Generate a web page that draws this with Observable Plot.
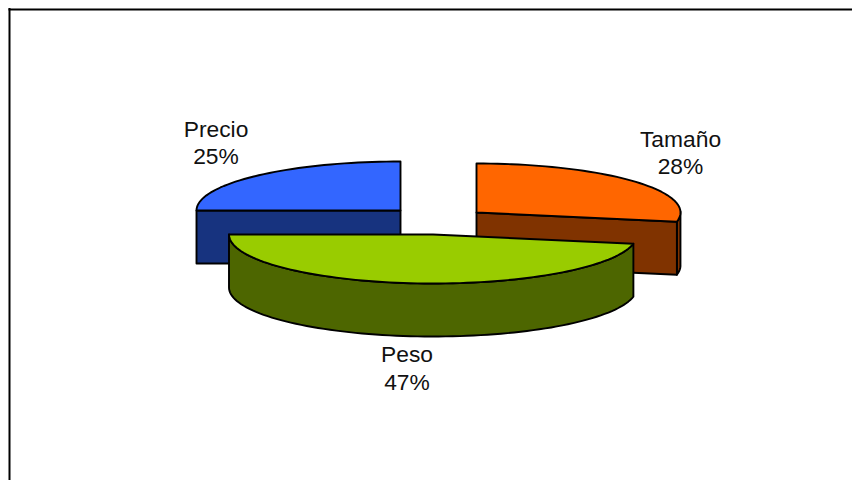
<!DOCTYPE html>
<html lang="es">
<head>
<meta charset="utf-8">
<title>Precio, Tamaño, Peso</title>
<script src="https://cdn.jsdelivr.net/npm/d3@7"></script>
<script src="https://cdn.jsdelivr.net/npm/@observablehq/plot@0.6"></script>
<style>
  html, body { margin: 0; padding: 0; background: #fff; }
  svg { display: block; }
</style>
</head>
<body>
<div id="chart"></div>
<script>
// Series
const categories = ["Precio", "Tamaño", "Peso"];
const shares = [25, 28, 47];

// Slice colours: lit top face and shaded side wall
const topColors = ["#3366ff", "#ff6600", "#99cc00"];
const wallColors = ["#17337f", "#803300", "#4d6600"];

// Exploded slice apexes and label anchors, in plot units
const apexX = [400, 476, 432.5];
const apexY = [210, 212, 234];
const labelX = [215.5, 680, 406.5];
const labelY = [141, 151, 366.5];

// Tilted-disc geometry
const radiusX = 204;
const radiusY = 49;
const depth = 53;
const startAngle = 270; // degrees clockwise from north

// Turn shares into start and end angles
let running = startAngle;
const slices = categories.map((name, i) => {
  const a0 = running;
  const a1 = a0 + (shares[i] / d3.sum(shares)) * 360;
  running = a1;
  return {name, share: shares[i], a0, a1, cx: apexX[i], cy: apexY[i],
          top: topColors[i], wall: wallColors[i], lx: labelX[i], ly: labelY[i]};
});

// A point on a slice's rim, optionally dropped to the bottom of the disc
const rim = (s, deg, drop = 0) => {
  const t = deg * Math.PI / 180;
  return {x: s.cx + radiusX * Math.sin(t), y: s.cy - radiusY * Math.cos(t) + drop};
};
const arc = (s, from, to, drop = 0) => {
  const n = Math.max(2, Math.ceil(Math.abs(to - from) / 2));
  return d3.range(n + 1).map(k => rim(s, from + (to - from) * k / n, drop));
};

const topFace = s => [{x: s.cx, y: s.cy}, ...arc(s, s.a0, s.a1)];
// Flat cut along a radius, seen from the front
const cutWall = (s, deg) => {
  const p = rim(s, deg);
  return [{x: s.cx, y: s.cy}, p, {x: p.x, y: p.y + depth}, {x: s.cx, y: s.cy + depth}];
};
// Curved outer wall between two angles
const outerWall = (s, from, to) => [...arc(s, from, to), ...arc(s, to, from, depth)];

const polygon = (points, fill) => Plot.line(points, {
  x: "x", y: "y", fill, stroke: "#000", strokeWidth: 1.9,
  curve: "linear-closed", strokeLinejoin: "round"
});

const [precio, tamano, peso] = slices;

const chart = Plot.plot({
  width: 852,
  height: 480,
  margin: 0,
  x: {domain: [0, 852], range: [0, 852], axis: null},
  y: {domain: [0, 480], range: [0, 480], axis: null},
  marks: [
    // Chart area border
    Plot.ruleY([9], {x1: 8.5, x2: 852, stroke: "#000", strokeWidth: 2}),
    Plot.ruleX([9], {y1: 8, y2: 480, stroke: "#000", strokeWidth: 2}),

    // Back to front: Precio, Tamaño, Peso
    polygon(cutWall(precio, precio.a0), precio.wall),
    polygon(topFace(precio), precio.top),

    // Tamaño shows only a sliver of its outer wall, right of the cut
    polygon(outerWall(tamano, tamano.a1 - 12, tamano.a1), tamano.wall),
    polygon(cutWall(tamano, tamano.a1), tamano.wall),
    polygon(topFace(tamano), tamano.top),

    polygon(outerWall(peso, peso.a0, peso.a1), peso.wall),
    polygon(topFace(peso), peso.top),

    // Category and percentage labels
    Plot.text(slices, {
      x: "lx", y: "ly",
      text: d => `${d.name}\n${d.share}%`,
      fontFamily: "Liberation Sans, Arial, sans-serif",
      fontSize: 22.8,
      lineHeight: 1.22,
      fill: "#111",
      textAnchor: "middle"
    })
  ]
});

document.getElementById("chart").append(chart);
</script>
</body>
</html>
